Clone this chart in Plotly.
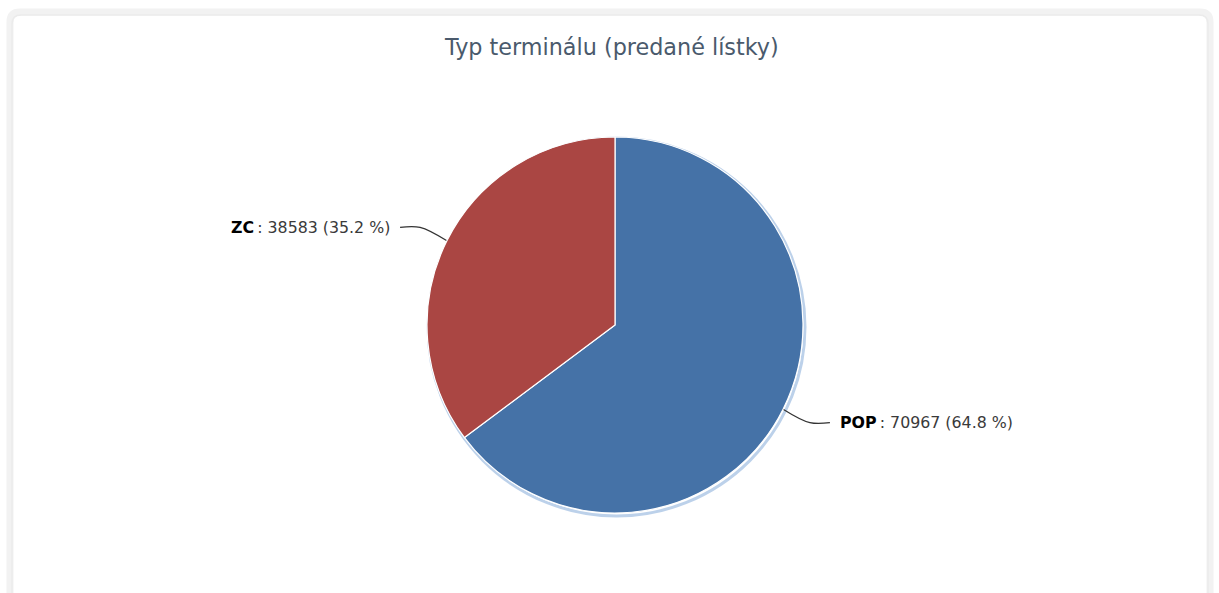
import math
import plotly.graph_objects as go

# Data
labels = ["POP", "ZC"]
values = [70967, 38583]
colors = ["#4572A7", "#AA4643"]
title_text = "Typ terminálu (predané lístky)"

W, H = 1219, 593
cx, cy, r = 615, 325, 188  # pie centre and radius in pixels

fig = go.Figure()

# Pie: first slice starts at 12 o'clock and runs clockwise
fig.add_trace(go.Pie(
    labels=labels,
    values=values,
    sort=False,
    direction="clockwise",
    rotation=0,
    marker=dict(colors=colors, line=dict(color="#ffffff", width=1.2)),
    textinfo="none",
    hoverinfo="label+value+percent",
    showlegend=False,
    domain=dict(x=[(cx - r) / W, (cx + r) / W], y=[1 - (cy + r) / H, 1 - (cy - r) / H]),
))

# Connectors and data labels derived from slice angles
total = sum(values)
start = 0.0
annotations = []
for lab, val in zip(labels, values):
    frac = val / total
    mid = (start + frac / 2) * 2 * math.pi
    start += frac
    sx, sy = math.sin(mid), -math.cos(mid)
    x0, y0 = cx + r * sx, cy + r * sy
    x1, y1 = cx + (r + 30) * sx, cy + (r + 30) * sy
    side = 1 if sx >= 0 else -1
    x2 = x1 + side * 20
    fig.add_trace(go.Scatter(
        x=[x0, x1, x2], y=[y0, y1, y1], mode="lines",
        line=dict(color="#333333", width=1.2, shape="spline"),
        hoverinfo="skip", showlegend=False,
    ))
    annotations.append(dict(
        x=x2 + side * 8, y=y1, xref="x", yref="y",
        text=f"<b style='color:#000'>{lab}</b>\u2009: {val} ({frac * 100:.1f} %)",
        showarrow=False,
        xanchor="left" if side > 0 else "right", yanchor="middle",
        font=dict(family="DejaVu Sans", size=15.8, color="#3a3a3a"),
    ))

annotations.append(dict(
    x=611, y=47, xref="x", yref="y", text=title_text, showarrow=False,
    xanchor="center", yanchor="middle",
    font=dict(family="DejaVu Sans", size=22.3, color="#4a5a6c"),
))

shapes = [
    # card outline
    dict(type="path", xref="x", yref="y",
         path="M 10 620 L 10 22 Q 10 12 20 12 L 1200 12 Q 1210 12 1210 22 L 1210 620",
         line=dict(color="#f2f2f2", width=7), layer="below"),
    dict(type="path", xref="x", yref="y",
         path="M 12 620 L 12 24 Q 12 15 21 15 L 1199 15 Q 1208 15 1208 24 L 1208 620",
         line=dict(color="#ebebeb", width=1.5), layer="below"),
    # soft shadow ring round the pie
    dict(type="circle", xref="x", yref="y",
         x0=cx - r + 1, x1=cx + r + 2, y0=cy - r + 1, y1=cy + r + 3,
         line=dict(color="rgba(160,190,225,0.7)", width=3), layer="below"),
]

fig.update_layout(
    width=W, height=H,
    margin=dict(l=0, r=0, t=0, b=0),
    paper_bgcolor="#ffffff", plot_bgcolor="rgba(0,0,0,0)",
    xaxis=dict(range=[0, W], visible=False, fixedrange=True),
    yaxis=dict(range=[H, 0], visible=False, fixedrange=True),
    annotations=annotations,
    shapes=shapes,
)

fig.write_html("out.html")
